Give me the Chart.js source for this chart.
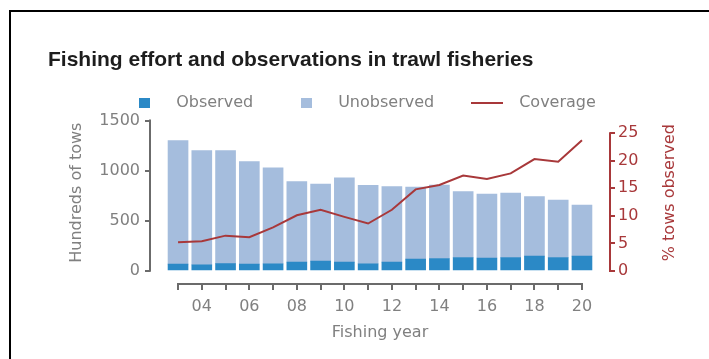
<!DOCTYPE html>
<html>
<head>
<meta charset="utf-8">
<script src="https://cdn.jsdelivr.net/npm/chart.js@4"></script>
<style>
  html, body { margin: 0; padding: 0; width: 709px; height: 359px; overflow: hidden; background: #fff; }
  #frame { position: absolute; left: 9px; top: 10px; width: 1000px; height: 1000px;
           border-left: 2px solid #000; border-top: 2px solid #000; }
  #chart { position: absolute; left: 0; top: 0; }
</style>
</head>
<body>
<div id="frame"></div>
<canvas id="chart" width="709" height="359"></canvas>
<script>
// Fishing years (tick at every year, label on even years)
const years = [2003, 2004, 2005, 2006, 2007, 2008, 2009, 2010, 2011,
               2012, 2013, 2014, 2015, 2016, 2017, 2018, 2019, 2020];
const yearLabels = ['', '04', '', '06', '', '08', '', '10', '',
                    '12', '', '14', '', '16', '', '18', '', '20'];

// Tows (hundreds)
const observed   = [67, 60, 73, 67, 70, 87, 97, 87, 70, 87, 117, 123, 133, 128, 133, 147, 133, 147];
const unobserved = [1233, 1140, 1127, 1023, 957, 803, 770, 840, 783, 753, 720, 732, 657, 639, 644, 593, 574, 510];

// Observer coverage (% of tows observed)
const coverage = [5.2, 5.4, 6.4, 6.1, 7.9, 10.1, 11.1, 9.8, 8.6, 11.1, 14.8, 15.6, 17.3, 16.7, 17.7, 20.3, 19.8, 23.7];

// Axis tick values
const towTicks = [0, 500, 1000, 1500];
const coverageTicks = [0, 5, 10, 15, 20, 25];

const GREY = '#808080';
const AXIS_GREY = '#6b6b6b';
const RED = '#a8383a';
const OBS_BLUE = '#2b89c6';
const UNOBS_BLUE = '#a5bddd';
const FONT = 'DejaVu Sans';
const TICK_LEN = 5;
const AXIS_W = 2;

// Small canvases used as legend handles
function squareIcon(color) {
  const c = document.createElement('canvas');
  c.width = 11; c.height = 10;
  const g = c.getContext('2d');
  g.fillStyle = color;
  g.fillRect(0, 0, 11, 10);
  return c;
}
function lineIcon(color) {
  const c = document.createElement('canvas');
  c.width = 32; c.height = 2;
  const g = c.getContext('2d');
  g.fillStyle = color;
  g.fillRect(0, 0, 32, 2);
  return c;
}
const legendIcons = [squareIcon(OBS_BLUE), squareIcon(UNOBS_BLUE), lineIcon(RED)];

// Trimmed spines, year tick marks and the two y-axis titles
const spinesAndTitles = {
  id: 'spinesAndTitles',
  afterDraw(chart) {
    const { ctx, chartArea, scales } = chart;
    const x = scales.x, y = scales.y, y2 = scales.y2;
    const bottom = Math.round(chartArea.bottom);
    const half = AXIS_W / 2;
    ctx.save();
    ctx.lineWidth = AXIS_W;
    ctx.lineCap = 'butt';
    ctx.strokeStyle = AXIS_GREY;

    ctx.beginPath();
    ctx.moveTo(Math.round(x.getPixelForValue(years[0])) - half, bottom);
    ctx.lineTo(Math.round(x.getPixelForValue(years[years.length - 1])) + half, bottom);
    ctx.stroke();

    for (const yr of years) {
      const px = Math.round(x.getPixelForValue(yr));
      ctx.beginPath();
      ctx.moveTo(px, bottom);
      ctx.lineTo(px, bottom + TICK_LEN + half);
      ctx.stroke();
    }

    ctx.beginPath();
    ctx.moveTo(chartArea.left, y.getPixelForValue(towTicks[0]) + half);
    ctx.lineTo(chartArea.left, y.getPixelForValue(towTicks[towTicks.length - 1]) - half);
    ctx.stroke();

    ctx.strokeStyle = RED;
    ctx.beginPath();
    ctx.moveTo(chartArea.right, y2.getPixelForValue(coverageTicks[0]) + half);
    ctx.lineTo(chartArea.right, y2.getPixelForValue(coverageTicks[coverageTicks.length - 1]) - half);
    ctx.stroke();

    const midY = (y.getPixelForValue(towTicks[0]) + y.getPixelForValue(towTicks[towTicks.length - 1])) / 2 - 3;
    ctx.font = '16px "' + FONT + '"';
    ctx.textAlign = 'center';
    ctx.textBaseline = 'middle';

    ctx.save();
    ctx.fillStyle = GREY;
    ctx.translate(chartArea.left - 73, midY);
    ctx.rotate(-Math.PI / 2);
    ctx.fillText('Hundreds of tows', 0, 0);
    ctx.restore();

    ctx.save();
    ctx.fillStyle = RED;
    ctx.translate(chartArea.right + 60, midY);
    ctx.rotate(-Math.PI / 2);
    ctx.fillText('% tows observed', 0, 0);
    ctx.restore();

    ctx.restore();
  }
};

const tickGrid = (color) => ({
  display: true, drawOnChartArea: false, drawTicks: true, offset: false,
  tickLength: TICK_LEN, color: color, lineWidth: AXIS_W
});

new Chart(document.getElementById('chart'), {
  data: {
    labels: years,
    datasets: [
      { type: 'bar', label: 'Observed', data: observed, backgroundColor: OBS_BLUE,
        yAxisID: 'y', order: 1, barThickness: 20 },
      { type: 'bar', label: 'Unobserved', data: unobserved, backgroundColor: UNOBS_BLUE,
        yAxisID: 'y', order: 1, barThickness: 20 },
      { type: 'line', label: 'Coverage', data: coverage, borderColor: RED, borderWidth: 2,
        pointRadius: 0, tension: 0, yAxisID: 'y2', order: 0 }
    ]
  },
  options: {
    responsive: false,
    animation: false,
    layout: { padding: { left: 48, right: 41, top: 1, bottom: 0 } },
    scales: {
      x: {
        type: 'linear', stacked: true, offset: false, min: 2001.82, max: 2021.18,
        afterBuildTicks: (s) => { s.ticks = years.map(v => ({ value: v })); },
        afterFit: (s) => { s.height = 75; },
        ticks: {
          autoSkip: false, maxRotation: 0, padding: 8, color: GREY,
          font: { family: FONT, size: 16 },
          callback: (v, i) => yearLabels[i]
        },
        grid: { display: false, drawTicks: true, tickLength: TICK_LEN },
        border: { display: false },
        title: { display: true, text: 'Fishing year', color: GREY,
                 font: { family: FONT, size: 16 }, padding: { top: 0, bottom: 17 } }
      },
      y: {
        type: 'linear', position: 'left', stacked: true, min: -131, max: 1500,
        afterBuildTicks: (s) => { s.ticks = towTicks.map(v => ({ value: v })); },
        afterFit: (s) => { s.width = 102; },
        ticks: { padding: 5, color: GREY, font: { family: FONT, size: 16 },
                 callback: (v) => String(v) },
        grid: tickGrid(AXIS_GREY),
        border: { display: false }
      },
      y2: {
        type: 'linear', position: 'right', min: -2.377, max: 27.3,
        afterBuildTicks: (s) => { s.ticks = coverageTicks.map(v => ({ value: v })); },
        afterFit: (s) => { s.width = 58; },
        ticks: { padding: 3, color: RED, font: { family: FONT, size: 16 },
                 callback: (v) => String(v) },
        grid: tickGrid(RED),
        border: { display: false }
      }
    },
    plugins: {
      tooltip: { enabled: false },
      title: {
        display: true, align: 'start', color: '#1d1d1d',
        text: 'Fishing effort and observations in trawl fisheries',
        font: { family: 'Liberation Sans', size: 21, weight: 'bold', lineHeight: 1.2 },
        padding: { top: 46.4, bottom: -7.1 }
      },
      legend: {
        position: 'top', align: 'center',
        labels: {
          usePointStyle: true, pointStyleWidth: 48, padding: 29, color: GREY,
          font: { family: FONT, size: 16 },
          sort: (a, b) => a.datasetIndex - b.datasetIndex,
          generateLabels: (chart) =>
            Chart.defaults.plugins.legend.labels.generateLabels(chart).map(item =>
              Object.assign(item, { pointStyle: legendIcons[item.datasetIndex], fontColor: GREY }))
        }
      }
    }
  },
  plugins: [spinesAndTitles]
});
</script>
</body>
</html>
